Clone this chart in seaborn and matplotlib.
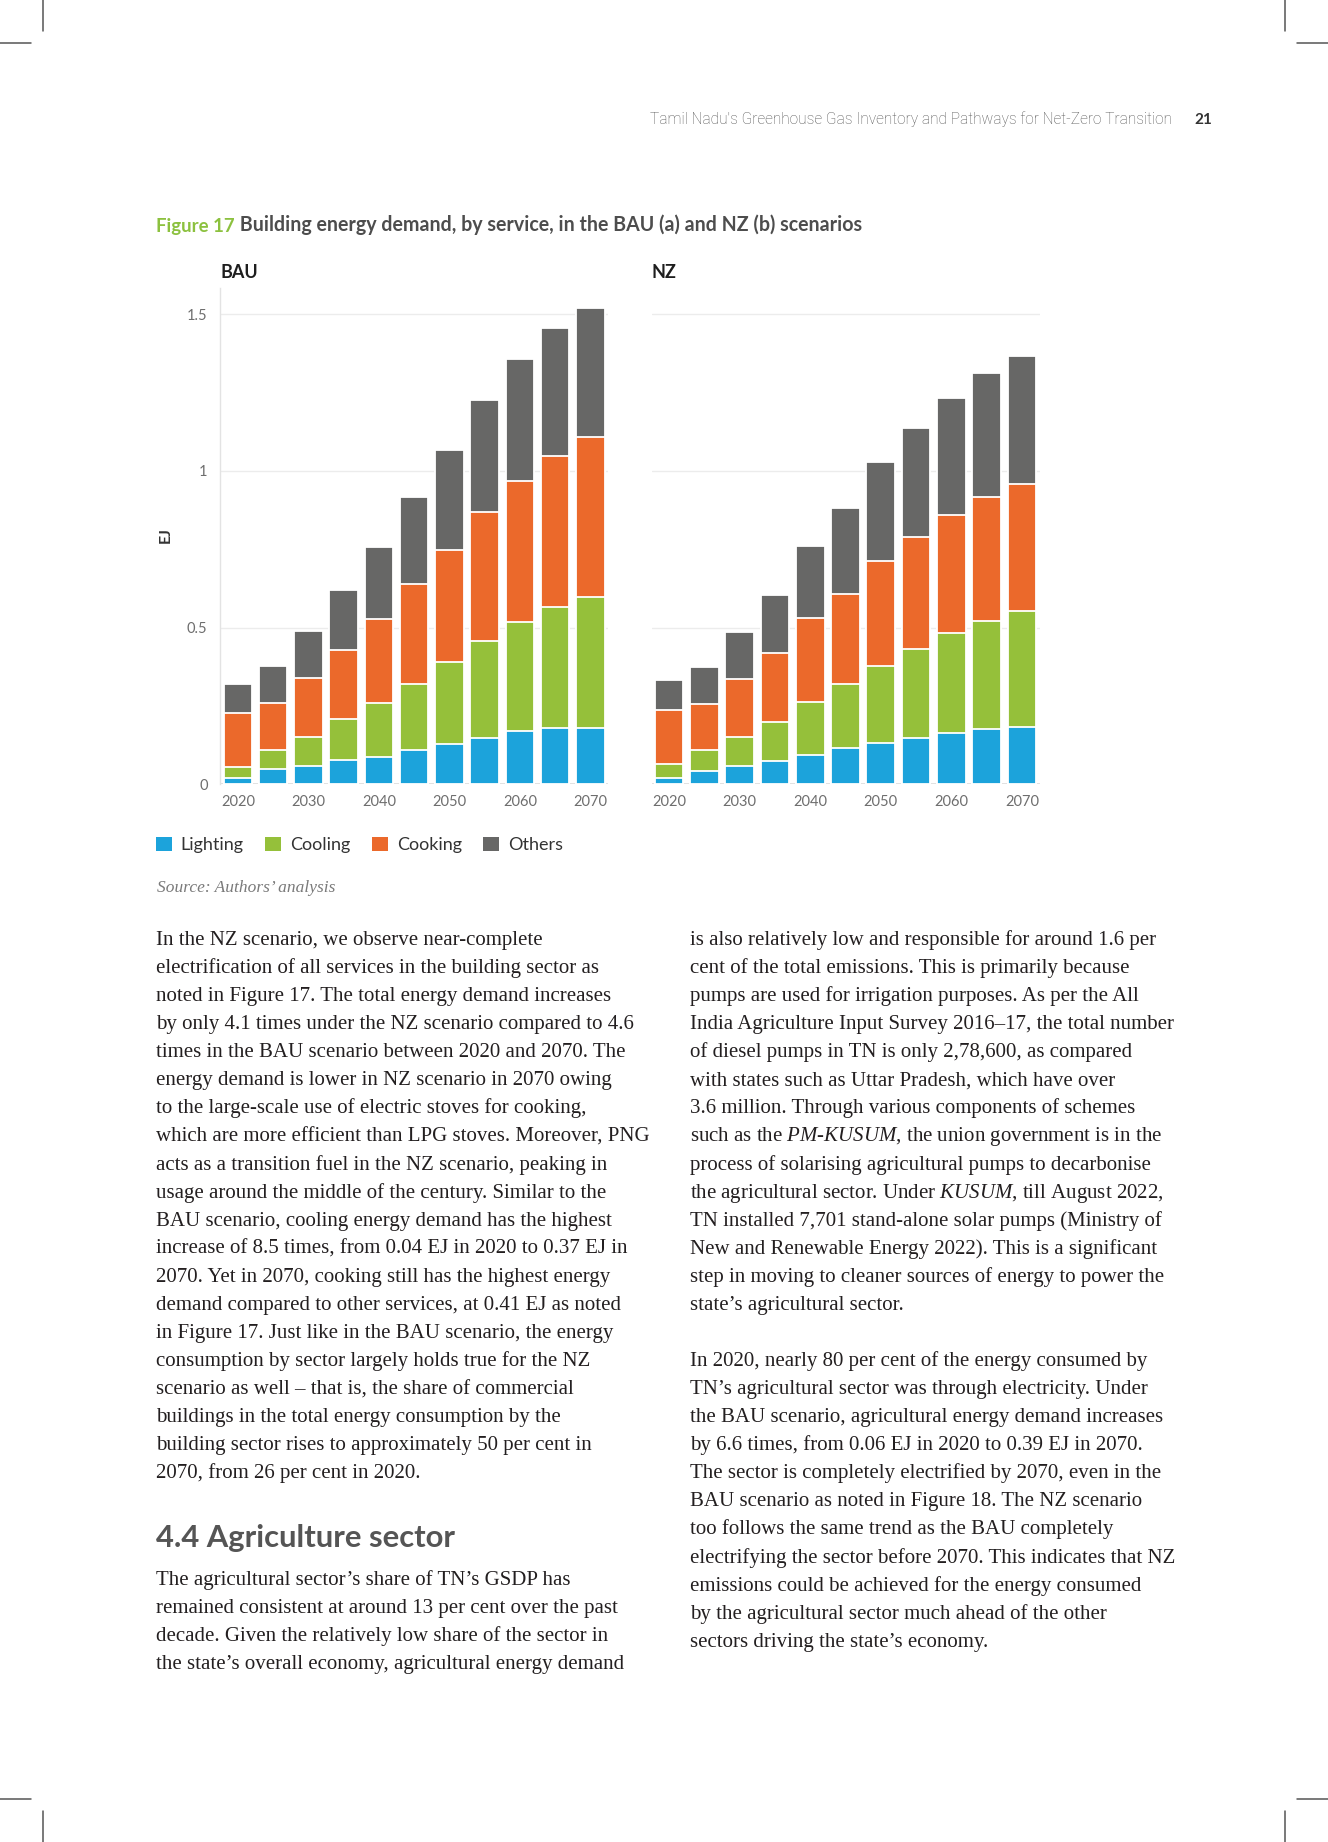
import matplotlib
matplotlib.use("Agg")
import matplotlib.pyplot as plt
import matplotlib.patches as mpatches
from matplotlib.lines import Line2D
import seaborn as sns
import pandas as pd

# data (EJ)
years = [2020, 2025, 2030, 2035, 2040, 2045, 2050, 2055, 2060, 2065, 2070]
services = ["Lighting", "Cooling", "Cooking", "Others"]
colors = ["#1ca3db", "#95c03a", "#eb692b", "#676766"]

bau_lighting = [0.019, 0.048, 0.058, 0.078, 0.088, 0.109, 0.128, 0.149, 0.169, 0.179, 0.179]
bau_cooling = [0.037, 0.061, 0.092, 0.130, 0.171, 0.210, 0.261, 0.308, 0.349, 0.388, 0.418]
bau_cooking = [0.173, 0.149, 0.188, 0.220, 0.270, 0.319, 0.359, 0.411, 0.450, 0.481, 0.510]
bau_others = [0.090, 0.121, 0.150, 0.191, 0.227, 0.280, 0.319, 0.359, 0.388, 0.407, 0.414]

nz_lighting = [0.021, 0.044, 0.057, 0.073, 0.092, 0.115, 0.132, 0.149, 0.164, 0.176, 0.183]
nz_cooling = [0.043, 0.065, 0.094, 0.126, 0.170, 0.204, 0.246, 0.283, 0.318, 0.345, 0.370]
nz_cooking = [0.174, 0.146, 0.184, 0.220, 0.270, 0.289, 0.334, 0.358, 0.378, 0.397, 0.407]
nz_others = [0.094, 0.118, 0.151, 0.186, 0.229, 0.273, 0.316, 0.346, 0.374, 0.394, 0.407]

y_ticks = [0, 0.5, 1, 1.5]
y_ticklabels = ["0", "0.5", "1", "1.5"]

left_col = [
    "In the NZ scenario, we observe near-complete",
    "electrification of all services in the building sector as",
    "noted in Figure 17. The total energy demand increases",
    "by only 4.1 times under the NZ scenario compared to 4.6",
    "times in the BAU scenario between 2020 and 2070. The",
    "energy demand is lower in NZ scenario in 2070 owing",
    "to the large-scale use of electric stoves for cooking,",
    "which are more efficient than LPG stoves. Moreover, PNG",
    "acts as a transition fuel in the NZ scenario, peaking in",
    "usage around the middle of the century. Similar to the",
    "BAU scenario, cooling energy demand has the highest",
    "increase of 8.5 times, from 0.04 EJ in 2020 to 0.37 EJ in",
    "2070. Yet in 2070, cooking still has the highest energy",
    "demand compared to other services, at 0.41 EJ as noted",
    "in Figure 17. Just like in the BAU scenario, the energy",
    "consumption by sector largely holds true for the NZ",
    "scenario as well \u2013 that is, the share of commercial",
    "buildings in the total energy consumption by the",
    "building sector rises to approximately 50 per cent in",
    "2070, from 26 per cent in 2020.",
]
left_col2 = [
    "The agricultural sector\u2019s share of TN\u2019s GSDP has",
    "remained consistent at around 13 per cent over the past",
    "decade. Given the relatively low share of the sector in",
    "the state\u2019s overall economy, agricultural energy demand",
]
right_col = [
    "is also relatively low and responsible for around 1.6 per",
    "cent of the total emissions. This is primarily because",
    "pumps are used for irrigation purposes. As per the All",
    "India Agriculture Input Survey 2016\u201317, the total number",
    "of diesel pumps in TN is only 2,78,600, as compared",
    "with states such as Uttar Pradesh, which have over",
    "3.6 million. Through various components of schemes",
    "such as the $\\mathit{PM}$-$\\mathit{KUSUM}$, the union government is in the",
    "process of solarising agricultural pumps to decarbonise",
    "the agricultural sector. Under $\\mathit{KUSUM}$, till August 2022,",
    "TN installed 7,701 stand-alone solar pumps (Ministry of",
    "New and Renewable Energy 2022). This is a significant",
    "step in moving to cleaner sources of energy to power the",
    "state\u2019s agricultural sector.",
    "",
    "In 2020, nearly 80 per cent of the energy consumed by",
    "TN\u2019s agricultural sector was through electricity. Under",
    "the BAU scenario, agricultural energy demand increases",
    "by 6.6 times, from 0.06 EJ in 2020 to 0.39 EJ in 2070.",
    "The sector is completely electrified by 2070, even in the",
    "BAU scenario as noted in Figure 18. The NZ scenario",
    "too follows the same trend as the BAU completely",
    "electrifying the sector before 2070. This indicates that NZ",
    "emissions could be achieved for the energy consumed",
    "by the agricultural sector much ahead of the other",
    "sectors driving the state\u2019s economy.",
]

sns.set_style("white")
plt.rcParams["font.family"] = ["Lato", "DejaVu Sans"]
plt.rcParams["mathtext.fontset"] = "custom"
plt.rcParams["mathtext.rm"] = "Liberation Serif"
plt.rcParams["mathtext.it"] = "Liberation Serif:italic"

W, H = 1328, 1842
fig = plt.figure(figsize=(W / 100, H / 100), dpi=100)


def px(x, y):
    return x / W, 1 - y / H


def draw_panel(ax, vals, title, show_y):
    df = pd.DataFrame({"year": [str(y) for y in years]})
    for s, v in zip(services, vals):
        df[s] = v
    cum = df[services].cumsum(axis=1)
    # stacked bars: draw cumulative totals, tallest first
    for s, c in reversed(list(zip(services, colors))):
        sns.barplot(x=df["year"], y=cum[s], color=c, saturation=1, width=0.81,
                    edgecolor="white", linewidth=1.3, errorbar=None, ax=ax)
    ax.set_xlim(-0.5, 10.5)
    ax.set_ylim(0, 1.584)
    ax.set_xlabel("")
    ax.set_ylabel("")
    ax.set_yticks(y_ticks)
    ax.yaxis.grid(True, color="#ececec", lw=1)
    ax.set_axisbelow(True)
    ax.axhline(0, color="#d9d9d9", lw=1.2, zorder=0.5)
    ax.set_xticks(range(len(years)))
    ax.set_xticklabels([str(y) if i % 2 == 0 else "" for i, y in enumerate(years)])
    ax.tick_params(axis="x", length=5, width=1, color="#d9d9d9", pad=3,
                   labelsize=10.5, labelcolor="#6e6e6e")
    for sp in ["top", "right", "bottom"]:
        ax.spines[sp].set_visible(False)
    if show_y:
        ax.set_yticklabels(y_ticklabels)
        ax.tick_params(axis="y", length=6.2, width=1, color="#ececec", pad=3,
                       labelsize=10.5, labelcolor="#6e6e6e")
        ax.spines["left"].set_color("#e3e3e3")
        ax.spines["left"].set_linewidth(1)
        ax.text(-0.14, 0.502, "EJ", transform=ax.transAxes, rotation=90,
                ha="center", va="center", fontsize=11.5, fontweight="bold", color="#333333")
    else:
        ax.set_yticklabels([])
        ax.tick_params(axis="y", length=0)
        ax.spines["left"].set_visible(False)
    ax.set_title(title, loc="left", fontsize=13, fontweight="bold", color="#1e1e1e", pad=7)


ax1 = fig.add_axes([220.3 / W, 1 - 784.3 / H, 387.7 / W, 496.3 / H])
ax2 = fig.add_axes([651.5 / W, 1 - 784.3 / H, 388 / W, 496.3 / H])
draw_panel(ax1, [bau_lighting, bau_cooling, bau_cooking, bau_others], "BAU", True)
draw_panel(ax2, [nz_lighting, nz_cooling, nz_cooking, nz_others], "NZ", False)

# legend
handles = [mpatches.Patch(facecolor=c, edgecolor="none") for c in colors]
fig.legend(handles, services, loc="center left", bbox_to_anchor=px(156, 845), ncol=4,
           frameon=False, fontsize=13, handlelength=0.87, handleheight=0.87,
           handletextpad=0.5, columnspacing=1.2, borderpad=0, borderaxespad=0,
           labelcolor="#333333")

# figure caption
t1 = fig.text(*px(156.5, 226), "Figure 17", fontsize=13.4, fontweight="bold",
              color="#8cc13f", ha="left", va="center")
plt.annotate(" Building energy demand, by service, in the BAU (a) and NZ (b) scenarios",
             xy=(1, 0), xycoords=t1, ha="left", va="bottom", fontsize=14.1,
             fontweight="bold", color="#4d4d4d", annotation_clip=False)

fig.text(*px(157, 887.5), "Source: Authors\u2019 analysis", fontsize=12.5,
         family="Liberation Serif", style="italic", color="#7a7a7a", ha="left", va="center")

# running header
fig.text(*px(1172, 119.5), "Tamil Nadu's Greenhouse Gas Inventory and Pathways for Net-Zero Transition",
         fontsize=11.2, family=["Roboto", "DejaVu Sans"], fontweight="light",
         color="#555555", ha="right", va="center")
fig.text(*px(1194, 119.5), "21", fontsize=11, fontweight="bold", color="#333333",
         ha="left", va="center")

# body text
body_kw = dict(fontsize=15, family="Liberation Serif", color="#231f20", ha="left", va="baseline")
lh = 28.07
for i, line in enumerate(left_col):
    fig.text(*px(156.5, 945 + i * lh), line, **body_kw)
for i, line in enumerate(left_col2):
    fig.text(*px(156.5, 1585 + i * lh), line, **body_kw)
for i, line in enumerate(right_col):
    if line:
        fig.text(*px(690.5, 945 + i * lh), line, **body_kw)

fig.text(*px(156.5, 1546.5), "4.4 Agriculture sector", fontsize=22.3, fontweight="bold",
         color="#555555", ha="left", va="baseline")

# crop marks
mark = dict(color="#555555", lw=1.1)
for x in (43.3, W - 43.3):
    fig.add_artist(Line2D([x / W, x / W], [1, 1 - 31 / H], **mark))
    fig.add_artist(Line2D([x / W, x / W], [0, 31 / H], **mark))
for y in (43.3, H - 43.3):
    fig.add_artist(Line2D([0, 31 / W], [1 - y / H, 1 - y / H], **mark))
    fig.add_artist(Line2D([1 - 31 / W, 1], [1 - y / H, 1 - y / H], **mark))

fig.savefig("out.png", dpi=100)
